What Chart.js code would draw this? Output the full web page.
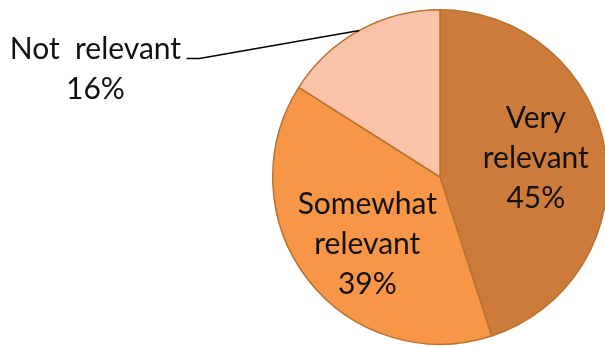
<!DOCTYPE html>
<html>
<head>
<meta charset="utf-8">
<script src="https://cdn.jsdelivr.net/npm/chart.js@4/dist/chart.umd.min.js"></script>
<style>
  html, body { margin: 0; padding: 0; background: #fff; overflow: hidden; }
  #wrap { position: relative; width: 620px; height: 348px; }
</style>
</head>
<body>
<div id="wrap"><canvas id="pasta" width="620" height="348"></canvas></div>
<script>
// Veriler
const kategoriler = ['Very relevant', 'Somewhat relevant', 'Not relevant'];
const degerler = [45, 39, 16];
const etiketSatirlari = [['Very', 'relevant', '45%'], ['Somewhat', 'relevant', '39%'], ['Not  relevant', '16%']];
const renkler = ['#CC7B3A', '#F79646', '#F9C3A9'];

const yaziFontu = '30px Lato, "Open Sans", sans-serif';
const satirAraligi = 40;

// Dilim etiketleri
const etiketEklentisi = {
  id: 'etiketler',
  afterDatasetsDraw(chart) {
    const ctx = chart.ctx;
    const arcs = chart.getDatasetMeta(0).data;
    const oranlar = [0.58, 0.55];
    const kaymalar = [6, 21];
    ctx.save();
    ctx.font = yaziFontu;
    ctx.fillStyle = '#111';
    ctx.textAlign = 'center';
    ctx.textBaseline = 'alphabetic';
    arcs.forEach((arc, i) => {
      const orta = (arc.startAngle + arc.endAngle) / 2;
      const satirlar = etiketSatirlari[i];
      if (i < 2) {
        const r = arc.outerRadius * oranlar[i];
        const x = arc.x + Math.cos(orta) * r;
        const y = arc.y + Math.sin(orta) * r;
        const bas = y - (satirlar.length - 1) * satirAraligi / 2 + kaymalar[i];
        satirlar.forEach((s, k) => ctx.fillText(s, x, bas + k * satirAraligi));
      } else {
        // dışarıdaki etiket ve çizgi
        const ex = arc.x + Math.cos(orta) * arc.outerRadius;
        const ey = arc.y + Math.sin(orta) * arc.outerRadius;
        const dirsekX = ex - 160;
        const dirsekY = ey + 28;
        ctx.strokeStyle = '#000';
        ctx.lineWidth = 1.5;
        ctx.beginPath();
        ctx.moveTo(ex, ey);
        ctx.lineTo(dirsekX, dirsekY);
        ctx.lineTo(dirsekX - 13, dirsekY);
        ctx.stroke();
        const tx = dirsekX - 104;
        satirlar.forEach((s, k) => ctx.fillText(s, tx, dirsekY + 1 + k * satirAraligi));
      }
    });
    ctx.restore();
  }
};

new Chart(document.getElementById('pasta'), {
  type: 'pie',
  data: {
    labels: kategoriler,
    datasets: [{
      data: degerler,
      backgroundColor: renkler,
      borderColor: '#B8722F',
      borderWidth: 1.5,
    }]
  },
  options: {
    responsive: false,
    animation: false,
    layout: { padding: { left: 272, right: 12, top: 9, bottom: 3 } },
    plugins: {
      legend: { display: false },
      tooltip: { enabled: false },
    },
  },
  plugins: [etiketEklentisi]
});
</script>
</body>
</html>
